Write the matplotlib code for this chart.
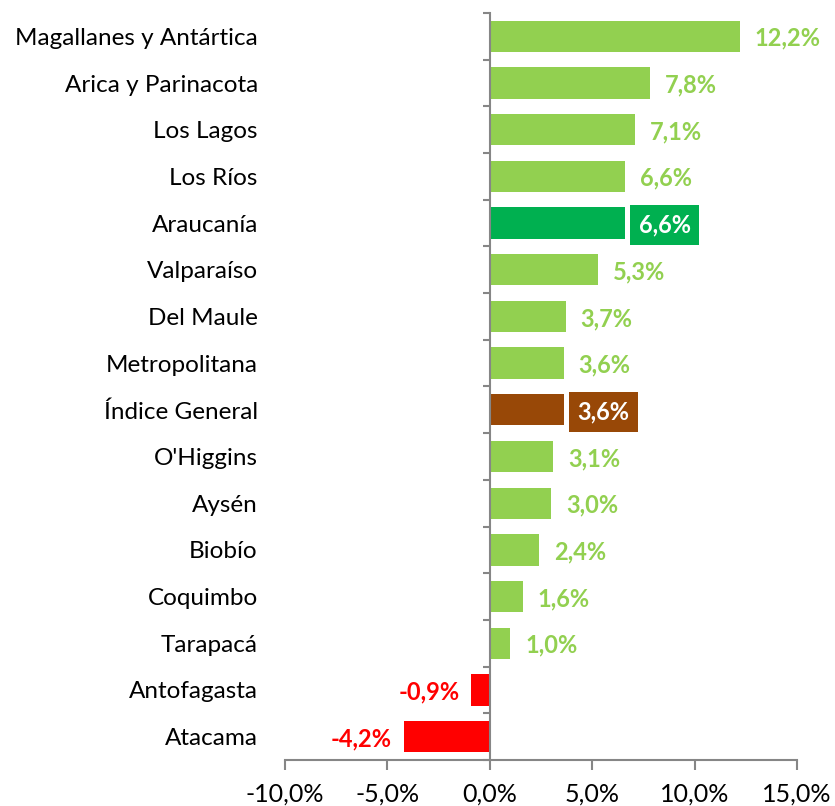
import matplotlib.pyplot as plt
import numpy as np
from matplotlib.ticker import FixedLocator, FuncFormatter
import matplotlib.transforms as mtransforms

regions = ["Magallanes y Antártica", "Arica y Parinacota", "Los Lagos", "Los Ríos",
           "Araucanía", "Valparaíso", "Del Maule", "Metropolitana", "Índice General",
           "O'Higgins", "Aysén", "Biobío", "Coquimbo", "Tarapacá", "Antofagasta", "Atacama"]
values = [12.2, 7.8, 7.1, 6.6, 6.6, 5.3, 3.7, 3.6, 3.6, 3.1, 3.0, 2.4, 1.6, 1.0, -0.9, -4.2]
x_ticks = [-10, -5, 0, 5, 10, 15]

GREEN = "#92D050"
DARK_GREEN = "#00B050"
BROWN = "#984807"
RED = "#FF0000"
AXIS = "#868686"
FONT = "Lato"

plt.rcParams["font.family"] = [FONT, "DejaVu Sans"]

fig = plt.figure(figsize=(8.35, 8.06), dpi=100)
ax = fig.add_axes([0.3413, 0.0571, 0.6132, 0.9268])

n = len(regions)
ypos = np.arange(n)
colors = []
for name, v in zip(regions, values):
    if name == "Araucanía":
        colors.append(DARK_GREEN)
    elif name == "Índice General":
        colors.append(BROWN)
    elif v < 0:
        colors.append(RED)
    else:
        colors.append(GREEN)

ax.barh(ypos, values, height=0.67, color=colors, zorder=2)
ax.set_ylim(n - 0.5, -0.5)
ax.set_xlim(-10, 15)

# value labels (nudged down a touch to sit like Excel's)
off = mtransforms.offset_copy
for y, name, v, c in zip(ypos, regions, values, colors):
    txt = f"{v:.1f}%".replace(".", ",")
    if name in ("Araucanía", "Índice General"):
        t = off(ax.transData, fig=fig, x=14, y=-2, units="dots")
        ax.text(v, y, txt, transform=t, ha="left", va="center", fontsize=17,
                fontweight="bold", color="white",
                bbox=dict(boxstyle="square,pad=0.36", fc=c, ec="none"))
    elif v < 0:
        t = off(ax.transData, fig=fig, x=-12, y=-2, units="dots")
        ax.text(v, y, txt, transform=t, ha="right", va="center", fontsize=17,
                fontweight="bold", color=c)
    else:
        t = off(ax.transData, fig=fig, x=15, y=-2, units="dots")
        ax.text(v, y, txt, transform=t, ha="left", va="center", fontsize=17,
                fontweight="bold", color=c)

# category labels on the left edge
blend = mtransforms.blended_transform_factory(ax.transAxes, ax.transData)
blend = off(blend, fig=fig, x=0, y=-2, units="dots")
for y, name in zip(ypos, regions):
    ax.text(-0.053, y, name, transform=blend, ha="right", va="center",
            fontsize=17.5, color="black")

# spines
for s in ("top", "right"):
    ax.spines[s].set_visible(False)
ax.spines["left"].set_position(("data", 0))
for s in ("left", "bottom"):
    ax.spines[s].set_color(AXIS)
    ax.spines[s].set_linewidth(1.5)

ax.yaxis.set_major_locator(FixedLocator(np.arange(-0.5, n, 1.0)))
ax.yaxis.set_major_formatter(FuncFormatter(lambda v, p: ""))
ax.tick_params(axis="y", direction="out", length=5, width=1.5, color=AXIS)

ax.xaxis.set_major_locator(FixedLocator(x_ticks))
ax.xaxis.set_major_formatter(FuncFormatter(lambda v, p: f"{v:.1f}%".replace(".", ",")))
ax.tick_params(axis="x", direction="out", length=7, width=1.5, color=AXIS,
               labelsize=18, pad=9)

fig.savefig("out.png", dpi=100)
